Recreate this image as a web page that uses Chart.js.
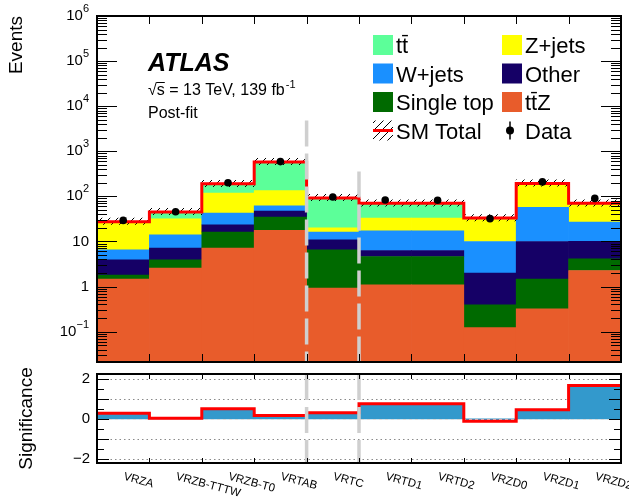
<!DOCTYPE html>
<html>
<head>
<meta charset="utf-8">
<title>Validation regions - post-fit</title>
<script src="https://cdn.jsdelivr.net/npm/chart.js@4.4.1/dist/chart.umd.min.js"></script>
<style>
  html, body { margin: 0; padding: 0; background: #fff; }
  #wrap { position: relative; width: 629px; height: 503px; }
  canvas { position: absolute; left: 0; }
  #top { top: 0; }
  #bot { top: 366px; }
</style>
</head>
<body>
<div id="wrap">
  <canvas id="top" width="629" height="370"></canvas>
  <canvas id="bot" width="629" height="137"></canvas>
</div>
<script>
/* --- values ---------------------------------------------------- */
const regions = ['VRZA', 'VRZB-TTTW', 'VRZB-T0', 'VRTAB', 'VRTC',
                 'VRTD1', 'VRTD2', 'VRZD0', 'VRZD1', 'VRZD2'];

// backgrounds, bottom of the stack first
const ttZ       = [1.46, 2.56, 7.1, 17.6, 0.92, 1.09, 1.09, 0.123, 0.32, 2.27];
const singleTop = [0.33, 1.34, 9.1, 17.2, 5.6, 3.55, 3.55, 0.27, 1.14, 1.83];
const other     = [2.1, 3.2, 7.3, 12.6, 4.4, 1.66, 1.66, 1.6, 8.5, 5.9];
const wJets     = [2.6, 7.0, 19.3, 14.6, 5.3, 11.0, 11.0, 8.0, 47, 17];
const zJets     = [19.9, 17.8, 76, 72, 3.7, 15.8, 15.8, 20.4, 125, 38.4];
const ttbar     = [1.1, 13.1, 71, 446, 72, 36.9, 36.9, 2.6, 12, 4.6];

const observed     = [29.3, 45.7, 201, 590, 97, 83, 82, 32, 209, 90];
const significance = [0.28, 0.03, 0.5, 0.17, 0.3, 0.75, 0.75, -0.12, 0.45, 1.67];

const yTickVals = [0.1, 1, 10, 100, 1e3, 1e4, 1e5, 1e6];
const yTickBase = ['10', '1', '10', '10', '10', '10', '10', '10'];
const yTickExp  = ['\u22121', '', '', '2', '3', '4', '5', '6'];
const sigTickVals = [-2, 0, 2];
const sigTickText = ['\u22122', '0', '2'];

const legendOrder = ['tt\u0304', 'Z+jets', 'W+jets', 'Other', 'Single top', 'tt\u0304Z', 'SM Total', 'Data'];

/* --- helpers ----------------------------------------------------- */
const FONT = '"Liberation Sans", Arial, sans-serif';
Chart.defaults.font.family = FONT;
Chart.defaults.color = '#000';

const smTotal = regions.map((_, i) => ttZ[i] + singleTop[i] + other[i] + wJets[i] + zJets[i] + ttbar[i]);
const smBand  = smTotal.map(t => [t / 1.15, t * 1.2]);
const stepPoints = v => v.map((y, i) => ({x: i, y})).concat({x: v.length, y: v[v.length - 1]});

const topCanvas = document.getElementById('top');
const botCanvas = document.getElementById('bot');

function makeHatch(ctx) {
  const c = document.createElement('canvas');
  c.width = 8; c.height = 8;
  const g = c.getContext('2d');
  g.strokeStyle = '#000'; g.lineWidth = 1;
  g.beginPath(); g.moveTo(0, 8); g.lineTo(8, 0); g.stroke();
  return ctx.createPattern(c, 'repeat');
}
const hatch = makeHatch(topCanvas.getContext('2d'));

function drawFrame(chart) {
  const {ctx, chartArea: a} = chart;
  ctx.save();
  ctx.strokeStyle = '#000'; ctx.lineWidth = 2;
  ctx.strokeRect(a.left, a.top, a.right - a.left, a.bottom - a.top);
  ctx.restore();
}

function drawEdgeTicks(chart, len) {
  const {ctx, chartArea: a} = chart;
  const xe = chart.scales.xe;
  ctx.save();
  ctx.strokeStyle = '#000'; ctx.lineWidth = 1;
  ctx.beginPath();
  for (let e = 1; e < regions.length; e++) {
    const px = Math.round(xe.getPixelForValue(e)) + 0.5;
    ctx.moveTo(px, a.bottom); ctx.lineTo(px, a.bottom - len);
    ctx.moveTo(px, a.top);    ctx.lineTo(px, a.top + len);
  }
  ctx.stroke();
  ctx.restore();
}

// grey dashed lines between VRTAB | VRTC | VRTD1
function drawSeparators(chart, edges, fromY) {
  const {ctx, chartArea: a} = chart;
  const xe = chart.scales.xe;
  ctx.save();
  ctx.strokeStyle = '#cfcfcf'; ctx.lineWidth = 3.5;
  ctx.setLineDash([26, 7]);
  edges.forEach((e, k) => {
    ctx.beginPath();
    ctx.moveTo(xe.getPixelForValue(e), fromY[k]);
    ctx.lineTo(xe.getPixelForValue(e), a.bottom);
    ctx.stroke();
  });
  ctx.restore();
}

/* --- upper panel decorations --------------------------------- */
const topDecor = {
  id: 'topDecor',
  afterDraw(chart) {
    const {ctx, chartArea: a} = chart;
    const y = chart.scales.y;
    drawSeparators(chart, [4, 5], [y.getPixelForValue(4800), y.getPixelForValue(355)]);
    drawFrame(chart);
    drawEdgeTicks(chart, 8);

    // log ticks, both sides
    ctx.save();
    ctx.strokeStyle = '#000'; ctx.lineWidth = 1;
    ctx.beginPath();
    for (let e = -2; e <= 6; e++) {
      for (let m = 1; m <= 9; m++) {
        const v = m * Math.pow(10, e);
        if (v < y.min || v > y.max * 1.0001) continue;
        const py = Math.round(y.getPixelForValue(v)) + 0.5;
        const len = m === 1 ? 20 : 10;
        ctx.moveTo(a.left, py);  ctx.lineTo(a.left + len, py);
        ctx.moveTo(a.right, py); ctx.lineTo(a.right - len, py);
      }
    }
    ctx.stroke();

    // tick labels 10^n
    ctx.fillStyle = '#000';
    ctx.textBaseline = 'middle';
    ctx.textAlign = 'right';
    yTickVals.forEach((v, k) => {
      const py = y.getPixelForValue(v);
      const rx = a.left - 8;
      let ew = 0;
      if (yTickExp[k]) {
        ctx.font = '11px ' + FONT;
        ew = ctx.measureText(yTickExp[k]).width;
        ctx.fillText(yTickExp[k], rx, py - 7);
      }
      ctx.font = '15px ' + FONT;
      ctx.fillText(yTickBase[k], rx - ew, py);
    });

    // ATLAS label
    ctx.textAlign = 'left';
    ctx.textBaseline = 'alphabetic';
    ctx.font = 'italic bold 25px ' + FONT;
    ctx.fillText('ATLAS', 148, 71);
    ctx.font = '16px ' + FONT;
    const line = '\u221As = 13 TeV, 139 fb';
    ctx.fillText(line, 148, 95);
    const wRoot = ctx.measureText('\u221A').width;
    const wS = ctx.measureText('s').width;
    ctx.fillRect(148 + wRoot - 0.5, 82, wS + 0.5, 1);
    const wLine = ctx.measureText(line).width;
    ctx.fillText('Post-fit', 148, 118);
    ctx.font = '11px ' + FONT;
    ctx.fillText('-1', 148 + wLine + 1, 88);

    // legend, two columns
    const colX = [373, 502];
    const rowY = [45, 73.5, 102, 130.5];
    legendOrder.forEach((lab, k) => {
      const ds = chart.data.datasets.find(d => d.label === lab);
      const x = colX[k % 2];
      const yc = rowY[Math.floor(k / 2)];
      if (lab === 'SM Total') {
        ctx.fillStyle = hatch;
        ctx.fillRect(x, yc - 10, 20, 20);
        ctx.strokeStyle = ds.borderColor; ctx.lineWidth = 3;
        ctx.beginPath(); ctx.moveTo(x, yc); ctx.lineTo(x + 20, yc); ctx.stroke();
      } else if (lab === 'Data') {
        ctx.strokeStyle = '#000'; ctx.lineWidth = 1.5;
        ctx.beginPath(); ctx.moveTo(x + 8, yc - 9); ctx.lineTo(x + 8, yc + 9); ctx.stroke();
        ctx.fillStyle = '#000';
        ctx.beginPath(); ctx.arc(x + 8, yc, 4, 0, Math.PI * 2); ctx.fill();
      } else {
        ctx.fillStyle = ds.backgroundColor;
        ctx.fillRect(x, yc - 10, 20, 20);
      }
      ctx.fillStyle = '#000';
      ctx.font = '22px ' + FONT;
      ctx.fillText(lab, x + 23, yc + 8);
    });
    ctx.restore();
  }
};

/* --- lower panel decorations --------------------------------- */
const botDecor = {
  id: 'botDecor',
  beforeDatasetsDraw(chart) {
    const {ctx, chartArea: a} = chart;
    const y = chart.scales.y;
    ctx.save();
    ctx.strokeStyle = '#8a8a8a'; ctx.lineWidth = 1;
    ctx.setLineDash([1.5, 3]);
    ctx.beginPath();
    for (let v = -2; v <= 2; v++) {
      if (v === 0) continue;
      const py = Math.round(y.getPixelForValue(v)) + 0.5;
      ctx.moveTo(a.left, py); ctx.lineTo(a.right, py);
    }
    ctx.stroke();
    ctx.restore();
  },
  afterDatasetDraw(chart, args) {
    if (args.index !== 1) return;
    const {ctx, chartArea: a} = chart;
    const py = Math.round(chart.scales.y.getPixelForValue(0)) + 0.5;
    ctx.save();
    ctx.strokeStyle = '#d8d8d8'; ctx.lineWidth = 1;
    ctx.setLineDash([3, 3]);
    ctx.beginPath(); ctx.moveTo(a.left, py); ctx.lineTo(a.right, py); ctx.stroke();
    ctx.restore();
  },
  afterDraw(chart) {
    const {ctx, chartArea: a} = chart;
    const y = chart.scales.y;
    drawSeparators(chart, [4, 5], [a.top, a.top]);
    drawFrame(chart);
    drawEdgeTicks(chart, 5);

    ctx.save();
    ctx.strokeStyle = '#000'; ctx.lineWidth = 1;
    ctx.beginPath();
    for (let k = -4; k <= 4; k++) {
      const v = k / 2;
      const py = Math.round(y.getPixelForValue(v)) + 0.5;
      const len = k % 2 === 0 ? 12 : 7;
      ctx.moveTo(a.left, py);  ctx.lineTo(a.left + len, py);
      ctx.moveTo(a.right, py); ctx.lineTo(a.right - len, py);
    }
    ctx.stroke();

    ctx.fillStyle = '#000';
    ctx.font = '15px ' + FONT;
    ctx.textAlign = 'right'; ctx.textBaseline = 'middle';
    sigTickVals.forEach((v, k) => ctx.fillText(sigTickText[k], a.left - 7, y.getPixelForValue(v)));

    // rotated region names
    ctx.font = '11.5px ' + FONT;
    ctx.textAlign = 'left'; ctx.textBaseline = 'top';
    regions.forEach((r, i) => {
      const px = chart.scales.x.getPixelForValue(i);
      ctx.save();
      ctx.translate(px + 2, a.bottom + 8);
      ctx.rotate(15 * Math.PI / 180);
      ctx.fillText(r, 0, 0);
      ctx.restore();
    });
    ctx.restore();
  }
};

/* --- charts ------------------------------------------------------ */
// grouped:false keeps every bar on the full bin width
const barDefaults = {categoryPercentage: 1, barPercentage: 1, borderWidth: 0, grouped: false};

new Chart(topCanvas, {
  type: 'bar',
  data: {
    labels: regions,
    datasets: [
      {type: 'line', label: 'Data', data: observed, yAxisID: 'yu', showLine: false,
       pointRadius: 3.8, pointHoverRadius: 3.8, pointBackgroundColor: '#000', pointBorderWidth: 0},
      {type: 'line', label: 'SM Total', data: stepPoints(smTotal), xAxisID: 'xe', yAxisID: 'yu',
       stepped: true, borderColor: '#ff0000', borderWidth: 3, pointRadius: 0, fill: false},
      {label: 'unc', data: smBand, yAxisID: 'yu', backgroundColor: hatch},
      {label: 'tt\u0304Z',   data: ttZ,       backgroundColor: '#e85c2b'},
      {label: 'Single top', data: singleTop, backgroundColor: '#006a00'},
      {label: 'Other',      data: other,     backgroundColor: '#150066'},
      {label: 'W+jets',     data: wJets,     backgroundColor: '#1a90ff'},
      {label: 'Z+jets',     data: zJets,     backgroundColor: '#ffff00'},
      {label: 'tt\u0304',    data: ttbar,     backgroundColor: '#5cff99'}
    ]
  },
  options: {
    responsive: false,
    animation: false,
    devicePixelRatio: 1,
    events: [],
    layout: {padding: {left: 0, right: 8, top: 16, bottom: 8}},
    datasets: {bar: barDefaults},
    plugins: {legend: {display: false}, tooltip: {enabled: false}},
    scales: {
      x:  {type: 'category', stacked: true, offset: true, display: false},
      xe: {type: 'linear', min: 0, max: 10, offset: false, display: false},
      y: {
        type: 'logarithmic', stacked: true, min: 0.0212, max: 1e6,
        grid: {display: false}, border: {display: false}, ticks: {display: false},
        title: {display: true, text: 'Events', align: 'end', font: {size: 19},
                padding: {top: 5, bottom: 0}},
        afterFit: s => { s.width = 97; }
      },
      yu: {type: 'logarithmic', min: 0.0212, max: 1e6, display: false}
    }
  },
  plugins: [topDecor]
});

new Chart(botCanvas, {
  type: 'bar',
  data: {
    labels: regions,
    datasets: [
      {type: 'line', label: 'Significance line', data: stepPoints(significance), xAxisID: 'xe',
       stepped: true, borderColor: '#ff0000', borderWidth: 3, pointRadius: 0, fill: false},
      {label: 'Significance', data: significance, backgroundColor: '#3399cc'}
    ]
  },
  options: {
    responsive: false,
    animation: false,
    devicePixelRatio: 1,
    events: [],
    layout: {padding: {left: 0, right: 8, top: 8, bottom: 40}},
    datasets: {bar: barDefaults},
    plugins: {legend: {display: false}, tooltip: {enabled: false}},
    scales: {
      x:  {type: 'category', offset: true, display: false},
      xe: {type: 'linear', min: 0, max: 10, offset: false, display: false},
      y: {
        min: -2.22, max: 2.25,
        grid: {display: false}, border: {display: false}, ticks: {display: false},
        title: {display: true, text: 'Significance', font: {size: 19},
                padding: {top: 15, bottom: 0}},
        afterFit: s => { s.width = 97; }
      }
    }
  },
  plugins: [botDecor]
});
</script>
</body>
</html>
